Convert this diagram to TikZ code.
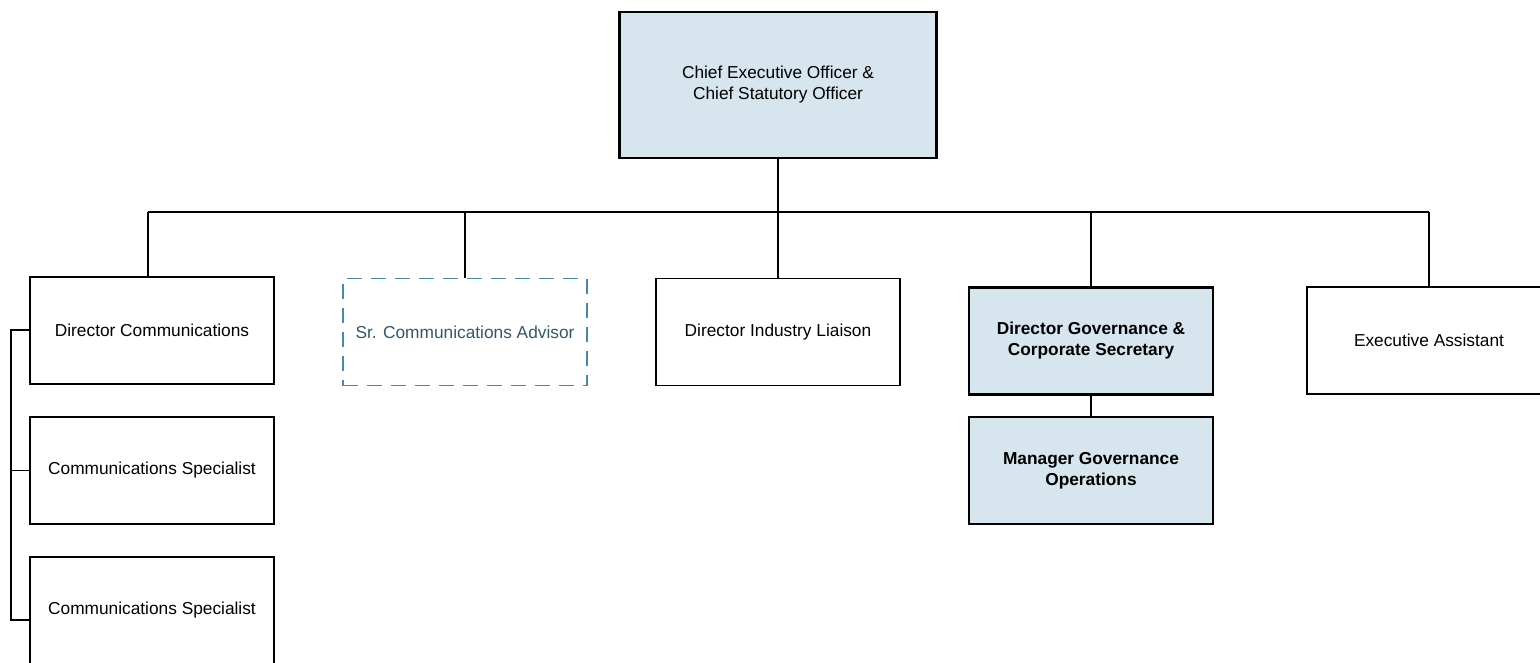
\documentclass[tikz,border=0pt]{standalone}
\usepackage{fontspec}
\setmainfont{Liberation Sans}
\definecolor{boxblue}{HTML}{D7E5EE}
\definecolor{dashblue}{HTML}{4A88A4}
\definecolor{advtext}{HTML}{34586A}
\begin{document}
\begin{tikzpicture}[x=1pt,y=-1pt,
  every node/.style={font=\fontsize{17.3}{21}\selectfont, align=center, inner sep=0pt},
  plainbox/.style={draw=black, line width=1.1pt, minimum width=244pt, minimum height=107pt},
  boldbox/.style={draw=black, line width=2.2pt, minimum width=244pt, minimum height=107pt},
  bluebox/.style={draw=black, line width=2.6pt, fill=boxblue, minimum width=244pt, minimum height=107pt},
  advbox/.style={draw=dashblue, line width=1.8pt, dash pattern=on 15pt off 9pt, minimum width=244pt, minimum height=107pt, text=advtext},
  conn/.style={draw=black, line width=1.3pt}]
\useasboundingbox (0,0) rectangle (1540,662);
\node[bluebox, minimum width=317pt, minimum height=146pt] (ceo) at (778,85) {Chief Executive Officer \&\\Chief Statutory Officer};
\node[plainbox] (dcom) at (152,330.5) {Director Communications};
\node[advbox] (adv) at (465,332) {Sr. Communications Advisor};
\node[plainbox] (dil) at (778,332) {Director Industry Liaison};
\node[bluebox, font=\fontsize{17.3}{21}\selectfont\bfseries] (dgov) at (1091,341) {Director Governance \&\\Corporate Secretary};
\node[bluebox, font=\fontsize{17.3}{21}\selectfont\bfseries] (mgov) at (1091,470.5) {Manager Governance\\Operations};
\node[plainbox] (ea) at (1429,340.5) {Executive Assistant};
\node[boldbox] (cs1) at (152,470.5) {Communications Specialist};
\node[boldbox] (cs2) at (152,610.5) {Communications Specialist};
\coordinate (busL) at (148,212);
\coordinate (busR) at (1429,212);
\coordinate (bus) at (778,212);
\coordinate (brk) at (11,330);
\coordinate (brkB) at (11,620);
\draw[conn] (ceo.south) -- (bus);
\draw[conn] (busL) -- (busR);
\draw[conn] (busL) -- (busL |- dcom.north);
\draw[conn] (adv.north) -- (adv.north |- bus);
\draw[conn] (dil.north) -- (dil.north |- bus);
\draw[conn] (dgov.north) -- (dgov.north |- bus);
\draw[conn] (busR) -- (busR |- ea.north);
\draw[conn] (dgov.south) -- (mgov.north);
\draw[conn] (dcom.west |- brk) -- (brk) -- (brkB) -- (cs2.west |- brkB);
\draw[conn] (brk |- cs1.west) -- (cs1.west);
\end{tikzpicture}
\end{document}
